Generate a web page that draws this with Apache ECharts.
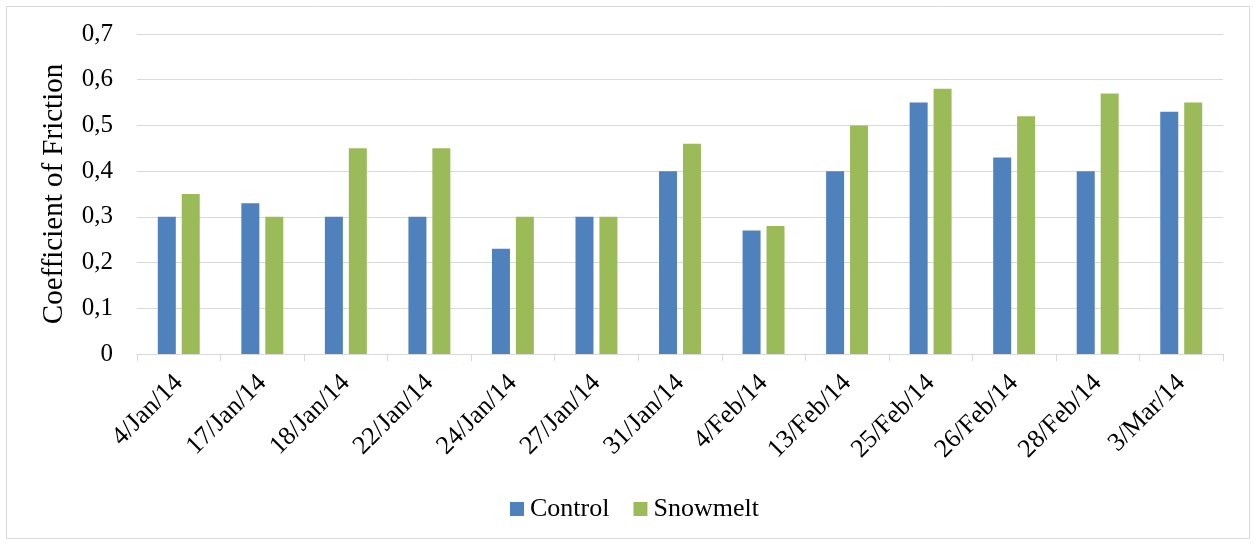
<!DOCTYPE html>
<html>
<head>
<meta charset="utf-8">
<script src="https://cdn.jsdelivr.net/npm/echarts@6/dist/echarts.min.js"></script>
<style>html,body{margin:0;padding:0;background:#fff}#c{width:1254px;height:544px}</style>
</head>
<body>
<div id="c"></div>
<script>
var categories = ['4/Jan/14','17/Jan/14','18/Jan/14','22/Jan/14','24/Jan/14','27/Jan/14','31/Jan/14','4/Feb/14','13/Feb/14','25/Feb/14','26/Feb/14','28/Feb/14','3/Mar/14'];
var controlValues = [0.30,0.33,0.30,0.30,0.23,0.30,0.40,0.27,0.40,0.55,0.43,0.40,0.53];
var snowmeltValues = [0.35,0.30,0.45,0.45,0.30,0.30,0.46,0.28,0.50,0.58,0.52,0.57,0.55];
var yTicks = [0,0.1,0.2,0.3,0.4,0.5,0.6,0.7];

var FONT = "'Liberation Serif','Times New Roman',serif";
var chart = echarts.init(document.getElementById('c'), null, {renderer:'canvas'});
chart.setOption({
  animation:false,
  backgroundColor:'#fff',
  textStyle:{fontFamily:FONT},
  graphic:[{type:'rect',shape:{x:6.5,y:6.5,width:1243,height:532},style:{fill:'none',stroke:'#d9d9d9',lineWidth:1},z:-1}],
  grid:{left:137,right:31,top:34,bottom:190,containLabel:false},
  legend:{
    left:505,top:491,itemWidth:14,itemHeight:14,itemGap:24,icon:'rect',
    textStyle:{fontFamily:FONT,fontSize:26,color:'#000',padding:[0,0,0,1]},
    data:['Control','Snowmelt']
  },
  xAxis:{
    type:'category',data:categories,
    axisLine:{lineStyle:{color:'#d9d9d9',width:1}},
    axisTick:{show:true,length:7,lineStyle:{color:'#d9d9d9'}},
    axisLabel:{rotate:45,fontFamily:FONT,fontSize:26,color:'#000',margin:25,interval:0}
  },
  yAxis:{
    type:'value',min:0,max:0.7,interval:0.1,
    name:'Coefficient of Friction',nameLocation:'middle',nameGap:68,
    nameTextStyle:{fontFamily:FONT,fontSize:29,color:'#000'},
    axisLine:{show:false},axisTick:{show:false},
    splitLine:{lineStyle:{color:'#d9d9d9',width:1}},
    axisLabel:{fontFamily:FONT,fontSize:25,color:'#000',margin:24,
      formatter:function(v){var t=yTicks.find(function(x){return Math.abs(x-v)<1e-9;});return (t===undefined?v:t).toString().replace('.',',');}}
  },
  series:[
    {name:'Control',type:'bar',data:controlValues,barWidth:18,barGap:'33%',itemStyle:{color:'#4f81bd'}},
    {name:'Snowmelt',type:'bar',data:snowmeltValues,barWidth:18,barGap:'33%',itemStyle:{color:'#9bbb59'}}
  ]
});
</script>
</body>
</html>
